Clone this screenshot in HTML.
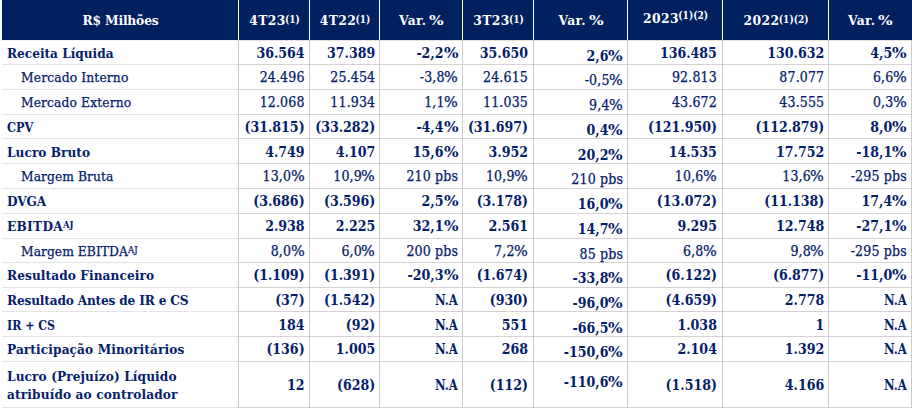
<!DOCTYPE html>
<html><head><meta charset="utf-8"><style>
html,body{margin:0;padding:0;background:#fff;}
body{width:912px;height:408px;overflow:hidden;position:relative;font-family:'DejaVu Serif Condensed','DejaVu Serif','Liberation Serif',serif;font-stretch:condensed;color:#04206a;}
div{position:absolute;}
.t{line-height:20px;height:20px;white-space:nowrap;}
.hd{color:#fff;font-weight:bold;font-size:13.7px;text-align:center;}
.hd .n{letter-spacing:0.4px;}
.hd sup{font-size:10px;vertical-align:top;letter-spacing:0px;margin-left:-0.6px;position:relative;top:-2.5px;display:inline-block;transform:scaleY(1.18);transform-origin:0 0;line-height:20px;}
.hd sup.u{top:-3.7px;}
.lb{font-weight:bold;font-size:13.5px;}
.lr{font-size:13.7px;letter-spacing:0.15px;-webkit-text-stroke:0.25px currentColor;}
.lb sup,.lr sup{font-size:9.5px;vertical-align:top;letter-spacing:0;position:relative;top:-1px;}
.nb{font-weight:bold;font-size:14px;letter-spacing:0px;text-align:right;}
.nr{font-size:14px;letter-spacing:0.15px;text-align:right;-webkit-text-stroke:0.25px currentColor;}
.pc{display:inline-block;transform:scaleX(1.15);transform-origin:0 0;margin-left:-0.5px;margin-right:1.8px;}
.nb .pc{transform:scaleX(1.22);margin-left:0px;margin-right:2.6px;}
.na{display:inline-block;transform:scaleX(0.92);transform-origin:100% 50%;}
.hd .pc{display:inline-block;transform:scaleX(1.25);transform-origin:0 0;margin-left:-2px;margin-right:2.9px;}
</style></head><body>

<div style="left:2px;top:0;width:910px;height:40px;background:#002060"></div>
<div style="left:238px;top:0;width:1px;height:40px;background:#fff"></div>
<div style="left:309px;top:0;width:1px;height:40px;background:#fff"></div>
<div style="left:379px;top:0;width:1px;height:40px;background:#fff"></div>
<div style="left:462px;top:0;width:1px;height:40px;background:#fff"></div>
<div style="left:533px;top:0;width:1px;height:40px;background:#fff"></div>
<div style="left:627px;top:0;width:1px;height:40px;background:#fff"></div>
<div style="left:722px;top:0;width:1px;height:40px;background:#fff"></div>
<div style="left:828px;top:0;width:1px;height:40px;background:#fff"></div>
<div style="left:2px;top:40px;width:236px;height:1px;background:#f3f1ec"></div>
<div style="left:238px;top:40px;width:674px;height:1px;background:#e3dfdb"></div>
<div style="left:2px;top:64px;width:236px;height:1px;background:#e4e4e4"></div>
<div style="left:238px;top:64px;width:674px;height:1px;background:#d6d2d4"></div>
<div style="left:2px;top:89px;width:236px;height:1px;background:#e4e4e4"></div>
<div style="left:238px;top:89px;width:674px;height:1px;background:#d6d2d4"></div>
<div style="left:2px;top:114px;width:236px;height:1px;background:#e4e4e4"></div>
<div style="left:238px;top:114px;width:674px;height:1px;background:#d6d2d4"></div>
<div style="left:2px;top:138px;width:236px;height:1px;background:#e4e4e4"></div>
<div style="left:238px;top:138px;width:674px;height:1px;background:#d6d2d4"></div>
<div style="left:2px;top:163px;width:236px;height:1px;background:#e4e4e4"></div>
<div style="left:238px;top:163px;width:674px;height:1px;background:#d6d2d4"></div>
<div style="left:2px;top:188px;width:236px;height:1px;background:#e4e4e4"></div>
<div style="left:238px;top:188px;width:674px;height:1px;background:#d6d2d4"></div>
<div style="left:2px;top:213px;width:236px;height:1px;background:#e4e4e4"></div>
<div style="left:238px;top:213px;width:674px;height:1px;background:#d6d2d4"></div>
<div style="left:2px;top:238px;width:236px;height:1px;background:#e4e4e4"></div>
<div style="left:238px;top:238px;width:674px;height:1px;background:#d6d2d4"></div>
<div style="left:2px;top:262px;width:236px;height:1px;background:#e4e4e4"></div>
<div style="left:238px;top:262px;width:674px;height:1px;background:#d6d2d4"></div>
<div style="left:2px;top:287px;width:236px;height:1px;background:#e4e4e4"></div>
<div style="left:238px;top:287px;width:674px;height:1px;background:#d6d2d4"></div>
<div style="left:2px;top:311px;width:236px;height:1px;background:#e4e4e4"></div>
<div style="left:238px;top:311px;width:674px;height:1px;background:#d6d2d4"></div>
<div style="left:2px;top:336px;width:236px;height:1px;background:#e4e4e4"></div>
<div style="left:238px;top:336px;width:674px;height:1px;background:#d6d2d4"></div>
<div style="left:2px;top:361px;width:236px;height:1px;background:#e4e4e4"></div>
<div style="left:238px;top:361px;width:674px;height:1px;background:#d6d2d4"></div>
<div style="left:2px;top:407px;width:236px;height:1px;background:#e4e4e4"></div>
<div style="left:238px;top:407px;width:674px;height:1px;background:#d6d2d4"></div>
<div style="left:238px;top:40px;width:1px;height:368px;background:#cdcacc"></div>
<div style="left:309px;top:40px;width:1px;height:368px;background:#cdcacc"></div>
<div style="left:379px;top:40px;width:1px;height:368px;background:#cdcacc"></div>
<div style="left:462px;top:40px;width:1px;height:368px;background:#cdcacc"></div>
<div style="left:533px;top:40px;width:1px;height:368px;background:#cdcacc"></div>
<div style="left:627px;top:40px;width:1px;height:368px;background:#cdcacc"></div>
<div style="left:722px;top:40px;width:1px;height:368px;background:#cdcacc"></div>
<div style="left:828px;top:40px;width:1px;height:368px;background:#cdcacc"></div>
<div style="left:911px;top:40px;width:1px;height:368px;background:#cdcacc"></div>
<div class="t hd" style="left:2px;width:237px;top:10px"><span style="letter-spacing:-0.2px">R$ Milhões</span></div>
<div class="t hd" style="left:239px;width:71px;top:10px"><span class="n">4T23</span><sup>(1)</sup></div>
<div class="t hd" style="left:310px;width:70px;top:10px"><span class="n">4T22</span><sup>(1)</sup></div>
<div class="t hd" style="left:380px;width:83px;top:10px"><span class="n">Var. <span class="pc">%</span></span></div>
<div class="t hd" style="left:463px;width:71px;top:10px"><span class="n">3T23</span><sup>(1)</sup></div>
<div class="t hd" style="left:534px;width:94px;top:10px"><span class="n">Var. <span class="pc">%</span></span></div>
<div class="t hd" style="left:628px;width:95px;top:8px"><span class="n">2023</span><sup class="u">(1)(2)</sup></div>
<div class="t hd" style="left:723px;width:106px;top:10px"><span class="n">2022</span><sup>(1)(2)</sup></div>
<div class="t hd" style="left:829px;width:83px;top:10px"><span class="n">Var. <span class="pc">%</span></span></div>
<div class="t lb" style="left:7px;top:43px;letter-spacing:-0.014px">Receita Líquida</div>
<div class="t nb" style="left:239px;width:65.60px;top:43px">36.564</div>
<div class="t nb" style="left:310px;width:65.30px;top:43px">37.389</div>
<div class="t nb" style="left:380px;width:78.10px;top:43px">-2,2<span class="pc">%</span></div>
<div class="t nb" style="left:463px;width:65.00px;top:43px">35.650</div>
<div class="t nb" style="left:534px;width:89.00px;top:46px">2,6<span class="pc">%</span></div>
<div class="t nb" style="left:628px;width:88.90px;top:43px">136.485</div>
<div class="t nb" style="left:723px;width:101.30px;top:43px">130.632</div>
<div class="t nb" style="left:829px;width:77.80px;top:43px">4,5<span class="pc">%</span></div>
<div class="t lr" style="left:21px;top:67px;letter-spacing:0.129px">Mercado Interno</div>
<div class="t nr" style="left:239px;width:65.60px;top:67px">24.496</div>
<div class="t nr" style="left:310px;width:65.30px;top:67px">25.454</div>
<div class="t nr" style="left:380px;width:78.10px;top:67px">-3,8<span class="pc">%</span></div>
<div class="t nr" style="left:463px;width:65.00px;top:67px">24.615</div>
<div class="t nr" style="left:534px;width:89.00px;top:70px">-0,5<span class="pc">%</span></div>
<div class="t nr" style="left:628px;width:88.90px;top:67px">92.813</div>
<div class="t nr" style="left:723px;width:101.30px;top:67px">87.077</div>
<div class="t nr" style="left:829px;width:77.80px;top:67px">6,6<span class="pc">%</span></div>
<div class="t lr" style="left:21px;top:92px;letter-spacing:0.107px">Mercado Externo</div>
<div class="t nr" style="left:239px;width:65.60px;top:92px">12.068</div>
<div class="t nr" style="left:310px;width:65.30px;top:92px">11.934</div>
<div class="t nr" style="left:380px;width:78.10px;top:92px">1,1<span class="pc">%</span></div>
<div class="t nr" style="left:463px;width:65.00px;top:92px">11.035</div>
<div class="t nr" style="left:534px;width:89.00px;top:95px">9,4<span class="pc">%</span></div>
<div class="t nr" style="left:628px;width:88.90px;top:92px">43.672</div>
<div class="t nr" style="left:723px;width:101.30px;top:92px">43.555</div>
<div class="t nr" style="left:829px;width:77.80px;top:92px">0,3<span class="pc">%</span></div>
<div class="t lb" style="left:7px;top:117px"><span style="display:inline-block;transform:scaleX(0.935);transform-origin:0 50%">CPV</span></div>
<div class="t nb" style="left:239px;width:65.60px;top:117px">(31.815)</div>
<div class="t nb" style="left:310px;width:65.30px;top:117px">(33.282)</div>
<div class="t nb" style="left:380px;width:78.10px;top:117px">-4,4<span class="pc">%</span></div>
<div class="t nb" style="left:463px;width:65.00px;top:117px">(31.697)</div>
<div class="t nb" style="left:534px;width:89.00px;top:120px">0,4<span class="pc">%</span></div>
<div class="t nb" style="left:628px;width:88.90px;top:117px">(121.950)</div>
<div class="t nb" style="left:723px;width:101.30px;top:117px">(112.879)</div>
<div class="t nb" style="left:829px;width:77.80px;top:117px">8,0<span class="pc">%</span></div>
<div class="t lb" style="left:7px;top:142px;letter-spacing:0.040px">Lucro Bruto</div>
<div class="t nb" style="left:239px;width:65.60px;top:142px">4.749</div>
<div class="t nb" style="left:310px;width:65.30px;top:142px">4.107</div>
<div class="t nb" style="left:380px;width:78.10px;top:142px">15,6<span class="pc">%</span></div>
<div class="t nb" style="left:463px;width:65.00px;top:142px">3.952</div>
<div class="t nb" style="left:534px;width:89.00px;top:145px">20,2<span class="pc">%</span></div>
<div class="t nb" style="left:628px;width:88.90px;top:142px">14.535</div>
<div class="t nb" style="left:723px;width:101.30px;top:142px">17.752</div>
<div class="t nb" style="left:829px;width:77.80px;top:142px">-18,1<span class="pc">%</span></div>
<div class="t lr" style="left:21px;top:166px;letter-spacing:0.059px">Margem Bruta</div>
<div class="t nr" style="left:239px;width:65.60px;top:166px">13,0<span class="pc">%</span></div>
<div class="t nr" style="left:310px;width:65.30px;top:166px">10,9<span class="pc">%</span></div>
<div class="t nr" style="left:380px;width:78.10px;top:166px">210 pbs</div>
<div class="t nr" style="left:463px;width:65.00px;top:166px">10,9<span class="pc">%</span></div>
<div class="t nr" style="left:534px;width:89.00px;top:169px">210 pbs</div>
<div class="t nr" style="left:628px;width:88.90px;top:166px">10,6<span class="pc">%</span></div>
<div class="t nr" style="left:723px;width:101.30px;top:166px">13,6<span class="pc">%</span></div>
<div class="t nr" style="left:829px;width:77.80px;top:166px">-295 pbs</div>
<div class="t lb" style="left:7px;top:191px;letter-spacing:-0.100px">DVGA</div>
<div class="t nb" style="left:239px;width:65.60px;top:191px">(3.686)</div>
<div class="t nb" style="left:310px;width:65.30px;top:191px">(3.596)</div>
<div class="t nb" style="left:380px;width:78.10px;top:191px">2,5<span class="pc">%</span></div>
<div class="t nb" style="left:463px;width:65.00px;top:191px">(3.178)</div>
<div class="t nb" style="left:534px;width:89.00px;top:194px">16,0<span class="pc">%</span></div>
<div class="t nb" style="left:628px;width:88.90px;top:191px">(13.072)</div>
<div class="t nb" style="left:723px;width:101.30px;top:191px">(11.138)</div>
<div class="t nb" style="left:829px;width:77.80px;top:191px">17,4<span class="pc">%</span></div>
<div class="t lb" style="left:7px;top:216px;letter-spacing:0.286px">EBITDA<sup>AJ</sup></div>
<div class="t nb" style="left:239px;width:65.60px;top:216px">2.938</div>
<div class="t nb" style="left:310px;width:65.30px;top:216px">2.225</div>
<div class="t nb" style="left:380px;width:78.10px;top:216px">32,1<span class="pc">%</span></div>
<div class="t nb" style="left:463px;width:65.00px;top:216px">2.561</div>
<div class="t nb" style="left:534px;width:89.00px;top:219px">14,7<span class="pc">%</span></div>
<div class="t nb" style="left:628px;width:88.90px;top:216px">9.295</div>
<div class="t nb" style="left:723px;width:101.30px;top:216px">12.748</div>
<div class="t nb" style="left:829px;width:77.80px;top:216px">-27,1<span class="pc">%</span></div>
<div class="t lr" style="left:21px;top:241px;letter-spacing:0.036px">Margem EBITDA<sup>AJ</sup></div>
<div class="t nr" style="left:239px;width:65.60px;top:241px">8,0<span class="pc">%</span></div>
<div class="t nr" style="left:310px;width:65.30px;top:241px">6,0<span class="pc">%</span></div>
<div class="t nr" style="left:380px;width:78.10px;top:241px">200 pbs</div>
<div class="t nr" style="left:463px;width:65.00px;top:241px">7,2<span class="pc">%</span></div>
<div class="t nr" style="left:534px;width:89.00px;top:244px">85 pbs</div>
<div class="t nr" style="left:628px;width:88.90px;top:241px">6,8<span class="pc">%</span></div>
<div class="t nr" style="left:723px;width:101.30px;top:241px">9,8<span class="pc">%</span></div>
<div class="t nr" style="left:829px;width:77.80px;top:241px">-295 pbs</div>
<div class="t lb" style="left:7px;top:265px;letter-spacing:0.089px">Resultado Financeiro</div>
<div class="t nb" style="left:239px;width:65.60px;top:265px">(1.109)</div>
<div class="t nb" style="left:310px;width:65.30px;top:265px">(1.391)</div>
<div class="t nb" style="left:380px;width:78.10px;top:265px">-20,3<span class="pc">%</span></div>
<div class="t nb" style="left:463px;width:65.00px;top:265px">(1.674)</div>
<div class="t nb" style="left:534px;width:89.00px;top:268px">-33,8<span class="pc">%</span></div>
<div class="t nb" style="left:628px;width:88.90px;top:265px">(6.122)</div>
<div class="t nb" style="left:723px;width:101.30px;top:265px">(6.877)</div>
<div class="t nb" style="left:829px;width:77.80px;top:265px">-11,0<span class="pc">%</span></div>
<div class="t lb" style="left:7px;top:290px;letter-spacing:-0.172px">Resultado Antes de IR e CS</div>
<div class="t nb" style="left:239px;width:65.60px;top:290px">(37)</div>
<div class="t nb" style="left:310px;width:65.30px;top:290px">(1.542)</div>
<div class="t nb" style="left:380px;width:78.10px;top:290px"><span class="na">N.A</span></div>
<div class="t nb" style="left:463px;width:65.00px;top:290px">(930)</div>
<div class="t nb" style="left:534px;width:89.00px;top:293px">-96,0<span class="pc">%</span></div>
<div class="t nb" style="left:628px;width:88.90px;top:290px">(4.659)</div>
<div class="t nb" style="left:723px;width:101.30px;top:290px">2.778</div>
<div class="t nb" style="left:829px;width:77.80px;top:290px"><span class="na">N.A</span></div>
<div class="t lb" style="left:7px;top:315px"><span style="display:inline-block;transform:scaleX(0.910);transform-origin:0 50%">IR + CS</span></div>
<div class="t nb" style="left:239px;width:65.60px;top:315px">184</div>
<div class="t nb" style="left:310px;width:65.30px;top:315px">(92)</div>
<div class="t nb" style="left:380px;width:78.10px;top:315px"><span class="na">N.A</span></div>
<div class="t nb" style="left:463px;width:65.00px;top:315px">551</div>
<div class="t nb" style="left:534px;width:89.00px;top:318px">-66,5<span class="pc">%</span></div>
<div class="t nb" style="left:628px;width:88.90px;top:315px">1.038</div>
<div class="t nb" style="left:723px;width:101.30px;top:315px">1</div>
<div class="t nb" style="left:829px;width:77.80px;top:315px"><span class="na">N.A</span></div>
<div class="t lb" style="left:7px;top:339px;letter-spacing:0.108px">Participação Minoritários</div>
<div class="t nb" style="left:239px;width:65.60px;top:339px">(136)</div>
<div class="t nb" style="left:310px;width:65.30px;top:339px">1.005</div>
<div class="t nb" style="left:380px;width:78.10px;top:339px"><span class="na">N.A</span></div>
<div class="t nb" style="left:463px;width:65.00px;top:339px">268</div>
<div class="t nb" style="left:534px;width:89.00px;top:342px">-150,6<span class="pc">%</span></div>
<div class="t nb" style="left:628px;width:88.90px;top:339px">2.104</div>
<div class="t nb" style="left:723px;width:101.30px;top:339px">1.392</div>
<div class="t nb" style="left:829px;width:77.80px;top:339px"><span class="na">N.A</span></div>
<div class="t lb" style="left:7px;top:366px;letter-spacing:0.109px">Lucro (Prejuízo) Líquido</div>
<div class="t lb" style="left:7px;top:384px;letter-spacing:0.135px">atribuído ao controlador</div>
<div class="t nb" style="left:239px;width:65.60px;top:375px">12</div>
<div class="t nb" style="left:310px;width:65.30px;top:375px">(628)</div>
<div class="t nb" style="left:380px;width:78.10px;top:375px"><span class="na">N.A</span></div>
<div class="t nb" style="left:463px;width:65.00px;top:375px">(112)</div>
<div class="t nb" style="left:534px;width:89.00px;top:372px">-110,6<span class="pc">%</span></div>
<div class="t nb" style="left:628px;width:88.90px;top:375px">(1.518)</div>
<div class="t nb" style="left:723px;width:101.30px;top:375px">4.166</div>
<div class="t nb" style="left:829px;width:77.80px;top:375px"><span class="na">N.A</span></div>
</body></html>
